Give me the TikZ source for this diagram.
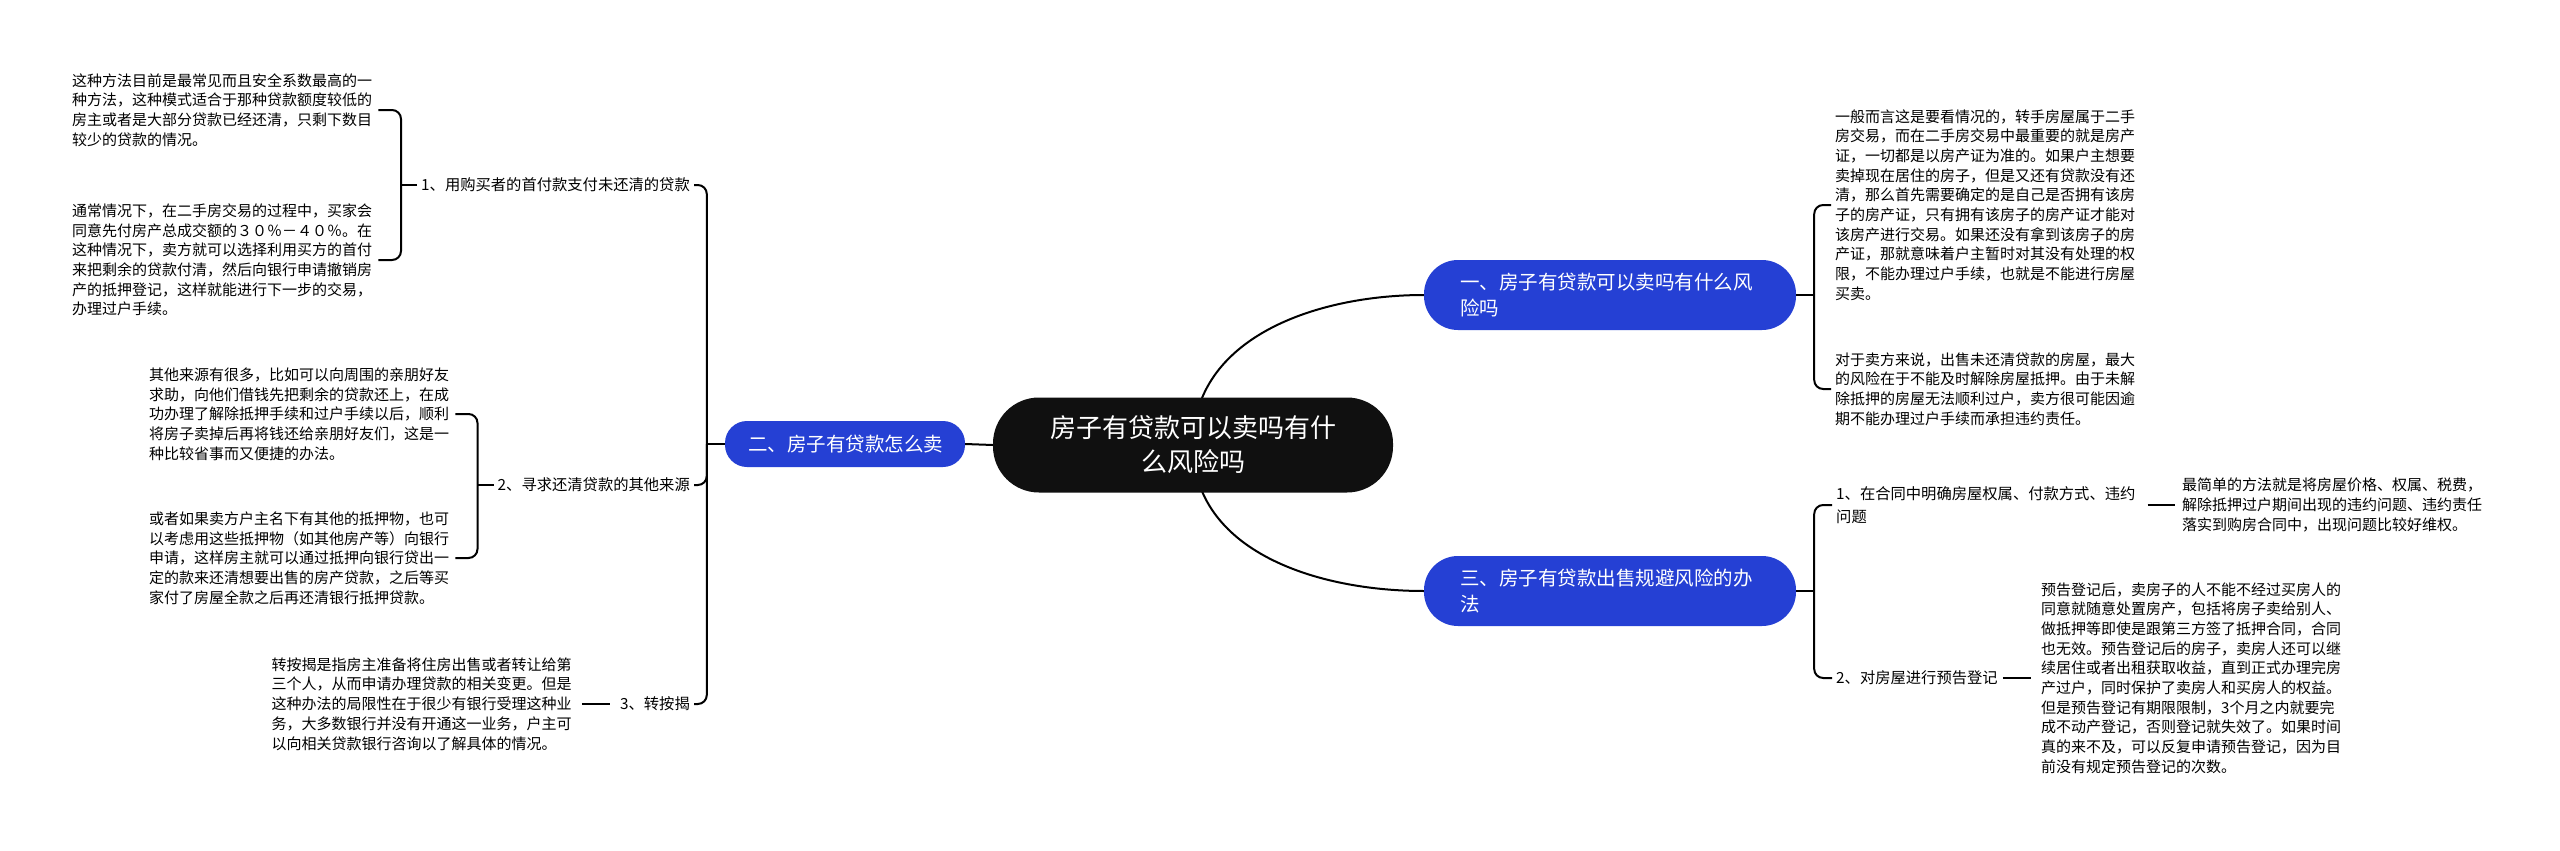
\documentclass[tikz,border=0pt]{standalone}
\usepackage{fontspec}
\setmainfont{Noto Sans CJK SC}
\usepackage{tikz}
\usetikzlibrary{positioning,backgrounds}
\definecolor{topicblue}{RGB}{37,64,212}
\definecolor{rootblack}{RGB}{16,16,16}

\begin{document}
\begin{tikzpicture}[
  x=1pt, y=-1pt,
  node distance=18pt and 18pt,
  root/.style={fill=rootblack, text=white, rounded corners=46pt, minimum width=400pt, minimum height=95pt, align=center, font=\fontsize{26}{34}\selectfont},
  topic/.style={fill=topicblue, text=white, rounded corners=34pt, minimum height=70pt, text width=300pt, inner xsep=36pt, align=left, font=\fontsize{19.5}{26}\selectfont},
  note/.style={inner sep=0pt, align=left, font=\fontsize{15}{19.7}\selectfont},
  leaf/.style={inner sep=0pt, align=left, font=\fontsize{15.3}{23}\selectfont},
  link/.style={line width=2pt},
  brace/.style={line width=2pt, rounded corners=9pt}
]
\useasboundingbox (0,0) rectangle (2560,851);

\node[root] (root) at (1193,445) {房子有贷款可以卖吗有什\\么风险吗};
\node[topic] (b1) at (1610,295) {一、房子有贷款可以卖吗有什么风\\险吗};
\node[topic] (b3) at (1610,591) {三、房子有贷款出售规避风险的办\\法};
\node[topic, text width=194pt, inner xsep=23pt, minimum height=46pt, rounded corners=22pt] (b2) at (845,444) {二、房子有贷款怎么卖};

\node[leaf, anchor=east] (l1) at (690,185) {1、用购买者的首付款支付未还清的贷款};
\node[leaf, anchor=east] (l2) at (690,485) {2、寻求还清贷款的其他来源};
\node[leaf, anchor=east] (l3) at (690,704) {3、转按揭};

\node[note, anchor=west] (t1) at (72,110) {这种方法目前是最常见而且安全系数最高的一\\
种方法，这种模式适合于那种贷款额度较低的\\
房主或者是大部分贷款已经还清，只剩下数目\\
较少的贷款的情况。};
\node[note, anchor=west] (t2) at (72,260) {通常情况下，在二手房交易的过程中，买家会\\
同意先付房产总成交额的３０％－４０％。在\\
这种情况下，卖方就可以选择利用买方的首付\\
来把剩余的贷款付清，然后向银行申请撤销房\\
产的抵押登记，这样就能进行下一步的交易，\\
办理过户手续。};
\node[note, anchor=west] (t3) at (149,414) {其他来源有很多，比如可以向周围的亲朋好友\\
求助，向他们借钱先把剩余的贷款还上，在成\\
功办理了解除抵押手续和过户手续以后，顺利\\
将房子卖掉后再将钱还给亲朋好友们，这是一\\
种比较省事而又便捷的办法。};
\node[note, anchor=west] (t4) at (149,558) {或者如果卖方户主名下有其他的抵押物，也可\\
以考虑用这些抵押物（如其他房产等）向银行\\
申请，这样房主就可以通过抵押向银行贷出一\\
定的款来还清想要出售的房产贷款，之后等买\\
家付了房屋全款之后再还清银行抵押贷款。};
\node[note, left=48pt of l3] (t5) {转按揭是指房主准备将住房出售或者转让给第\\
三个人，从而申请办理贷款的相关变更。但是\\
这种办法的局限性在于很少有银行受理这种业\\
务，大多数银行并没有开通这一业务，户主可\\
以向相关贷款银行咨询以了解具体的情况。};

\node[note, anchor=west] (t6) at (1835,205) {一般而言这是要看情况的，转手房屋属于二手\\
房交易，而在二手房交易中最重要的就是房产\\
证，一切都是以房产证为准的。如果户主想要\\
卖掉现在居住的房子，但是又还有贷款没有还\\
清，那么首先需要确定的是自己是否拥有该房\\
子的房产证，只有拥有该房子的房产证才能对\\
该房产进行交易。如果还没有拿到该房子的房\\
产证，那就意味着户主暂时对其没有处理的权\\
限，不能办理过户手续，也就是不能进行房屋\\
买卖。};
\node[note, anchor=west] (t7) at (1835,389) {对于卖方来说，出售未还清贷款的房屋，最大\\
的风险在于不能及时解除房屋抵押。由于未解\\
除抵押的房屋无法顺利过户，卖方很可能因逾\\
期不能办理过户手续而承担违约责任。};

\node[leaf, anchor=west] (l4) at (1836,505) {1、在合同中明确房屋权属、付款方式、违约\\问题};
\node[leaf, anchor=west] (l5) at (1836,678) {2、对房屋进行预告登记};
\node[note, anchor=west] (t8) at (2182,505) {最简单的方法就是将房屋价格、权属、税费，\\
解除抵押过户期间出现的违约问题、违约责任\\
落实到购房合同中，出现问题比较好维权。};
\node[note, anchor=west] (t9) at (2041,678) {预告登记后，卖房子的人不能不经过买房人的\\
同意就随意处置房产，包括将房子卖给别人、\\
做抵押等即使是跟第三方签了抵押合同，合同\\
也无效。预告登记后的房子，卖房人还可以继\\
续居住或者出租获取收益，直到正式办理完房\\
产过户，同时保护了卖房人和买房人的权益。\\
但是预告登记有期限限制，3个月之内就要完\\
成不动产登记，否则登记就失效了。如果时间\\
真的来不及，可以反复申请预告登记，因为目\\
前没有规定预告登记的次数。};

\coordinate (jl) at ([xshift=-18pt]b2.west);
\coordinate (jb1) at ([xshift=-20pt]l1.west);
\coordinate (jb2) at ([xshift=-20pt]l2.west);
\coordinate (jr1) at ([xshift=18pt]b1.east);
\coordinate (jr3) at ([xshift=18pt]b3.east);

\begin{scope}[on background layer]
\fill[white] (0,0) rectangle (2560,851);
\draw[link] (root.center) to[out=90,in=180] (b1.west);
\draw[link] (root.center) to[out=-90,in=180] (b3.west);
\end{scope}
\draw[link] (root.west) -- (b2.east);

\draw[link] (b2.west) -- (jl);
\draw[brace] ([xshift=4pt]l1.east) -| (jl) |- ([xshift=4pt]l3.east);
\draw[brace] ([xshift=4pt]l2.east) -| (jl);
\draw[link] (l1.west) ++(-4,0) -- (jb1);
\draw[brace] ([xshift=6pt]t1.east) -| (jb1) |- ([xshift=6pt]t2.east);
\draw[link] (l2.west) ++(-4,0) -- (jb2);
\draw[brace] ([xshift=6pt]t3.east) -| (jb2) |- ([xshift=6pt]t4.east);
\draw[link] ([xshift=10pt]t5.east) -- ([xshift=-10pt]l3.west);

\draw[link] (b1.east) -- (jr1);
\draw[brace] ([xshift=-4pt]t6.west) -| (jr1) |- ([xshift=-4pt]t7.west);
\draw[link] (b3.east) -- (jr3);
\draw[brace] ([xshift=-4pt]l4.west) -| (jr3) |- ([xshift=-4pt]l5.west);
\draw[link] ([xshift=12pt]l4.east) -- ([xshift=-7pt]t8.west);
\draw[link] ([xshift=5pt]l5.east) -- ([xshift=-10pt]t9.west);
\end{tikzpicture}
\end{document}
